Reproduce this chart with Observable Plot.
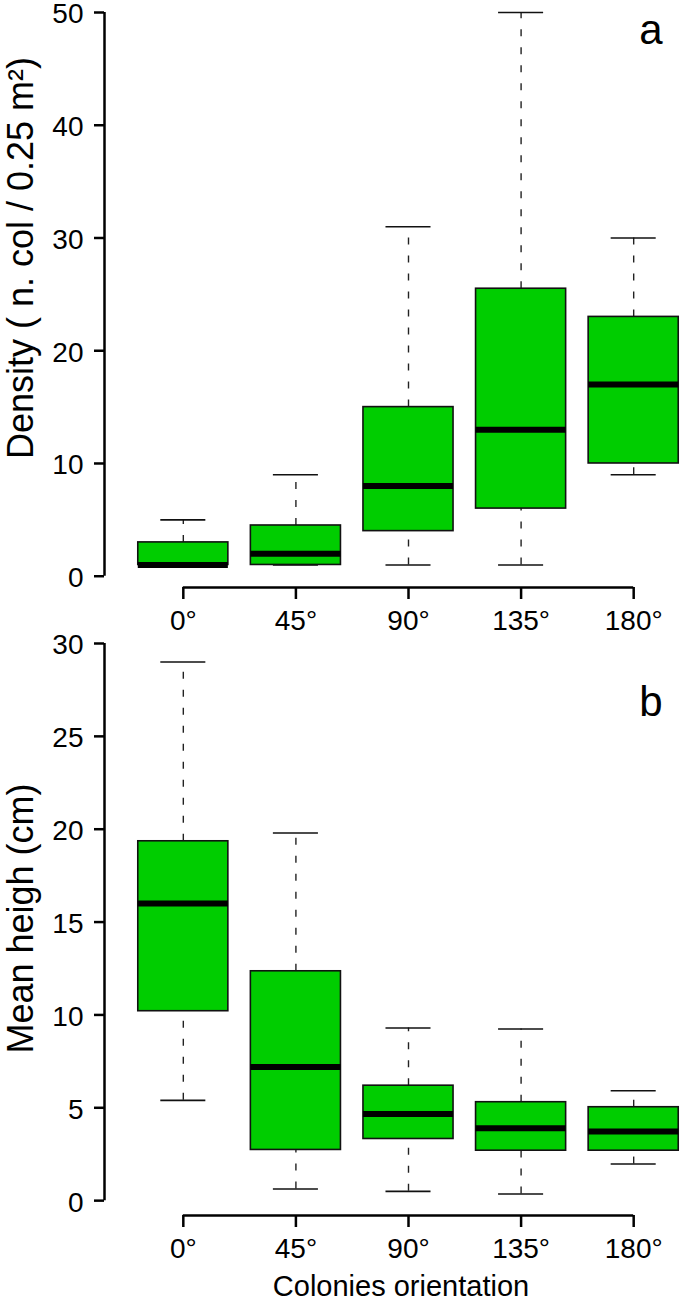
<!DOCTYPE html>
<html><head><meta charset="utf-8">
<script src="https://cdn.jsdelivr.net/npm/d3@7"></script>
<script src="https://cdn.jsdelivr.net/npm/@observablehq/plot@0.6"></script>
<style>
body{margin:0;background:#fff;}
#chart svg{display:block;overflow:visible;}
</style></head><body><div id="chart"></div>
<script>
// Categories (x)
const categories = ["0°", "45°", "90°", "135°", "180°"];

// Panel a: Density (n. col / 0.25 m²) — five-number summaries per orientation
const densMin = [1, 1, 1, 1, 9];
const densQ1  = [1, 1, 4, 6, 10];
const densMed = [1, 2, 8, 13, 17];
const densQ3  = [3, 4.5, 15, 25.5, 23];
const densMax = [5, 9, 31, 50, 30];
const densTicks = [0, 10, 20, 30, 40, 50];

// Panel b: Mean heigh (cm)
const hgtMin = [5.4, 0.63, 0.5, 0.36, 1.97];
const hgtQ1  = [10.2, 2.73, 3.32, 2.69, 2.69];
const hgtMed = [16.0, 7.2, 4.67, 3.9, 3.72];
const hgtQ3  = [19.35, 12.35, 6.19, 5.3, 5.03];
const hgtMax = [29, 19.8, 9.3, 9.24, 5.92];
const hgtTicks = [0, 5, 10, 15, 20, 25, 30];

const labelA = "Density ( n. col / 0.25 m²)";
const labelB = "Mean heigh (cm)";
const labelX = "Colonies orientation";

function boxTable(mins, q1s, meds, q3s, maxs) {
  return categories.map((c, i) => ({cat: c, pos: i + 1, min: mins[i], q1: q1s[i], med: meds[i], q3: q3s[i], max: maxs[i]}));
}
const positions = categories.map((c, i) => i + 1);
const xDomain = [0.5 - 0.2, categories.length + 0.5 + 0.2];
const boxHalf = 0.4, stapleHalf = 0.2;
const FONT = "'Liberation Sans', Arial, Helvetica, sans-serif";

function panel({rows, ticks, yMin, ylabel, letter, height, marginTop, marginBottom, titleDy, letterDy, xlabel}) {
  const marks = [
    Plot.ruleX(rows, {x: "pos", y1: "q3", y2: "max", stroke: "#222", strokeWidth: 1.4, strokeDasharray: "7,11"}),
    Plot.ruleX(rows, {x: "pos", y1: "min", y2: "q1", stroke: "#222", strokeWidth: 1.4, strokeDasharray: "7,11"}),
    Plot.ruleY(rows, {y: "max", x1: d => d.pos - stapleHalf, x2: d => d.pos + stapleHalf, stroke: "#111", strokeWidth: 1.6}),
    Plot.ruleY(rows, {y: "min", x1: d => d.pos - stapleHalf, x2: d => d.pos + stapleHalf, stroke: "#111", strokeWidth: 1.6}),
    Plot.rect(rows, {x1: d => d.pos - boxHalf, x2: d => d.pos + boxHalf, y1: "q1", y2: "q3", fill: "#00CD00", stroke: "#111", strokeWidth: 1.6}),
    Plot.ruleY(rows, {y: "med", x1: d => d.pos - boxHalf, x2: d => d.pos + boxHalf, stroke: "#000", strokeWidth: 6}),
    Plot.ruleX([xDomain[0]], {y1: ticks[0], y2: ticks[ticks.length - 1], stroke: "#000", strokeWidth: 2.5}),
    Plot.ruleY([yMin], {x1: positions[0], x2: positions[positions.length - 1], stroke: "#000", strokeWidth: 2.5}),
    // y ticks (no labels) and y tick labels, nudged down slightly like the reference
    Plot.axisY({ticks, tickSize: 10, strokeWidth: 2.5, tickFormat: () => "", label: null}),
    Plot.axisY({ticks, tickSize: 0, tickPadding: 21, dy: 2, fontSize: 28, label: null}),
    Plot.axisX({ticks: positions, tickFormat: i => categories[i - 1], tickSize: 12, tickPadding: 11, fontSize: 28, strokeWidth: 2.5, label: null}),
    Plot.text([ylabel], {frameAnchor: "left", rotate: -90, textAnchor: "middle", lineAnchor: "bottom", dx: -72, dy: titleDy, fontSize: 36}),
    Plot.text([letter], {frameAnchor: "top-right", textAnchor: "end", lineAnchor: "bottom", dx: -23, dy: letterDy, fontSize: 42})
  ];
  if (xlabel) marks.push(Plot.text([xlabel], {frameAnchor: "bottom", textAnchor: "middle", lineAnchor: "bottom", dy: 80, dx: 6, fontSize: 29}));
  return Plot.plot({
    width: 685,
    height,
    marginLeft: 104,
    marginRight: 0,
    marginTop,
    marginBottom,
    style: {fontFamily: FONT, fontSize: "28px", background: "white", color: "black", overflow: "visible"},
    x: {type: "linear", domain: xDomain, range: [104, 712]},
    y: {type: "linear", domain: [yMin, ticks[ticks.length - 1]]},
    marks
  });
}

const chart = document.getElementById("chart");
chart.append(panel({
  rows: boxTable(densMin, densQ1, densMed, densQ3, densMax),
  ticks: densTicks, yMin: -1, ylabel: labelA, letter: "a",
  height: 633, marginTop: 12, marginBottom: 46, titleDy: -42, letterDy: 31
}));
chart.append(panel({
  rows: boxTable(hgtMin, hgtQ1, hgtMed, hgtQ3, hgtMax),
  ticks: hgtTicks, yMin: -0.8, ylabel: labelB, letter: "b",
  height: 667, marginTop: 10, marginBottom: 85, titleDy: -11, letterDy: 72, xlabel: labelX
}));
</script></body></html>
